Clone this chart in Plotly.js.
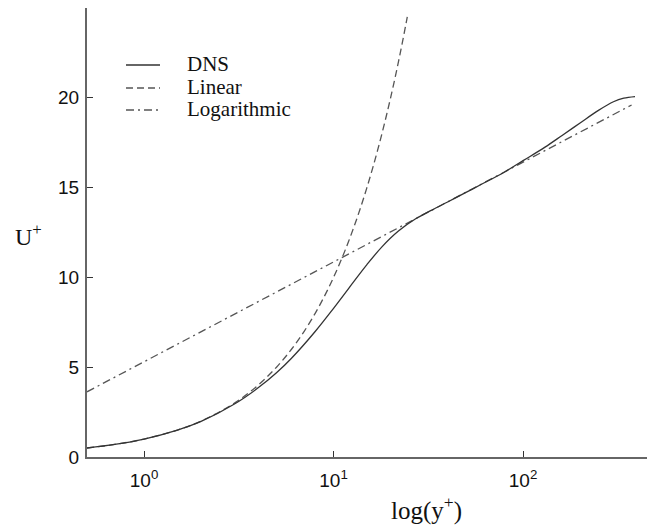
<!DOCTYPE html>
<html>
<head>
<meta charset="utf-8">
<script src="https://cdn.plot.ly/plotly-3.0.1.min.js"></script>
<style>html,body{margin:0;padding:0;background:#fff;}#chart{width:647px;height:528px;}</style>
</head>
<body>
<div id="chart"></div>
<script>
// DNS mean velocity profile
const dnsY = [0.5, 0.7, 1, 1.5, 2, 3, 4, 5, 6, 8, 10, 12, 15, 18, 22, 27, 33, 40, 50, 60, 80, 100, 130, 160, 200, 250, 300, 340, 390];
const dnsU = [0.5, 0.7, 1.0, 1.5, 1.98, 2.95, 3.85, 4.69, 5.5, 6.99, 8.28, 9.38, 10.71, 11.7, 12.58, 13.25, 13.75, 14.2, 14.73, 15.17, 15.87, 16.5, 17.24, 17.89, 18.6, 19.3, 19.78, 19.98, 20.07];
// Linear (viscous sublayer) law
const linY = [0.5, 0.7, 1, 1.5, 2, 3, 4, 5, 6, 7, 8, 9, 10, 11, 12, 13, 14, 15, 16, 17, 18, 19, 20, 21, 22, 23, 24.5];
const linU = [0.5, 0.7, 1, 1.5, 2, 3, 4, 5, 6, 7, 8, 9, 10, 11, 12, 13, 14, 15, 16, 17, 18, 19, 20, 21, 22, 23, 24.5];
// Logarithmic law, points
const logY = [0.5, 1, 10, 100, 374];
const logU = [3.63, 5.3, 10.86, 16.42, 19.6];
// Labels
const seriesNames = ["DNS", "Linear", "Logarithmic"];
const xTickVals = [1, 10, 100];
const xTickText = ["10<sup>0</sup>", "10<sup>1</sup>", "10<sup>2</sup>"];
const yTickVals = [0, 5, 10, 15, 20];

const W = 647, H = 528, L = 87, T = 8, PW = 560, PH = 449;
const px = v => (v - L) / PW;
const py = v => (T + PH - v) / PH;

const serif = "Liberation Serif, Times New Roman, serif";
const sans = "Liberation Sans, Arial, sans-serif";
const styles = [
  {color: "#333", width: 1.3, dash: "solid"},
  {color: "#555", width: 1.3, dash: "7px,4px"},
  {color: "#555", width: 1.3, dash: "8px,4px,2px,4px"}
];

const traces = [
  {x: linY, y: linU, mode: "lines", name: seriesNames[1], line: Object.assign({shape: "spline"}, styles[1]), showlegend: false, hoverinfo: "skip"},
  {x: logY, y: logU, mode: "lines", name: seriesNames[2], line: styles[2], showlegend: false, hoverinfo: "skip"},
  {x: dnsY, y: dnsU, mode: "lines", name: seriesNames[0], line: Object.assign({shape: "spline"}, styles[0]), showlegend: false, hoverinfo: "skip"}
];

const legRows = [65, 88, 110];
const shapes = [];
const annotations = [];
legRows.forEach((r, i) => {
  shapes.push({type: "line", xref: "paper", yref: "paper", x0: px(126), x1: px(160), y0: py(r), y1: py(r),
    line: {color: styles[i].color, width: styles[i].width, dash: styles[i].dash}});
  annotations.push({xref: "paper", yref: "paper", x: px(185), y: py(r - 1), xanchor: "left", yanchor: "middle",
    text: seriesNames[i], showarrow: false, font: {family: serif, size: 21, color: "#111"}});
});
annotations.push({xref: "paper", yref: "paper", x: px(28), y: py(235), xanchor: "center", yanchor: "middle",
  text: "U<sup>+</sup>", showarrow: false, font: {family: serif, size: 24, color: "#111"}});
annotations.push({xref: "paper", yref: "paper", x: px(426), y: py(508), xanchor: "center", yanchor: "middle",
  text: "log(y<sup>+</sup>)", showarrow: false, font: {family: serif, size: 25, color: "#111"}});

const layout = {
  width: W, height: H,
  margin: {l: L, r: W - L - PW, t: T, b: H - T - PH, pad: 0},
  paper_bgcolor: "#fff", plot_bgcolor: "#fff",
  showlegend: false,
  xaxis: {
    type: "log", range: [Math.log10(0.5), Math.log10(0.5) + PW / 189.5],
    tickvals: xTickVals, ticktext: xTickText, ticks: "inside", ticklen: 6, tickwidth: 1, tickcolor: "#333",
    showline: true, linecolor: "#666", linewidth: 2, showgrid: false, zeroline: false,
    tickfont: {family: sans, size: 19, color: "#111"}, ticklabelstandoff: 5
  },
  yaxis: {
    range: [0, 25], tickvals: yTickVals, ticks: "inside", ticklen: 6, tickwidth: 1, tickcolor: "#333",
    showline: true, linecolor: "#666", linewidth: 2, showgrid: false, zeroline: false,
    tickfont: {family: sans, size: 19, color: "#111"}, ticklabelstandoff: 2
  },
  shapes: shapes,
  annotations: annotations
};

Plotly.newPlot("chart", traces, layout, {displayModeBar: false, staticPlot: true});
</script>
</body>
</html>
